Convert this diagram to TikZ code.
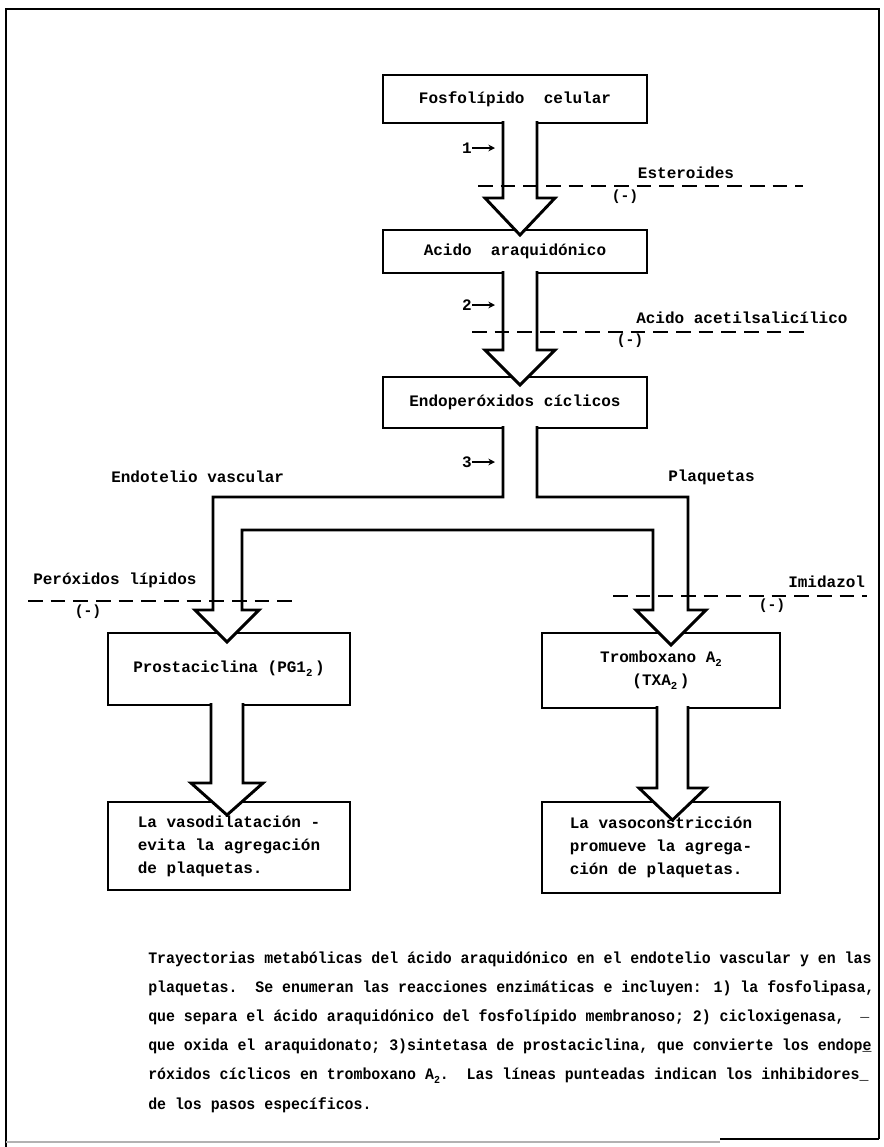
\documentclass[tikz,border=0pt]{standalone}
\usepackage{fontspec}
\newfontfamily\diagfont{Liberation Mono}
\newfontfamily\capfont[FakeStretch=0.93]{Liberation Mono}
\usetikzlibrary{calc,arrows.meta}
\newcommand\lowsub[1]{\raisebox{-0.45ex}{\fontsize{8}{8}\selectfont #1}}
\begin{document}
\begin{tikzpicture}[x=0.75pt,y=-0.75pt,
  pbox/.style={draw,line width=1.8pt,inner sep=0pt,outer sep=0pt,font=\diagfont\bfseries\fontsize{12}{17.25}\selectfont,align=center},
  lbl/.style={font=\diagfont\bfseries\fontsize{12}{14}\selectfont,inner sep=0pt},
  minus/.style={font=\diagfont\bfseries\fontsize{11}{12}\selectfont,inner sep=0pt},
  blockarrow/.style={draw,fill=white,line width=2.2pt,line join=miter},
  inhib/.style={line width=2.2pt,dash pattern=on 11pt off 6pt},
  numarrow/.style={line width=1.3pt,-{Stealth[length=5pt,width=5pt]}},
  capline/.style={font=\capfont\bfseries\fontsize{12}{22}\selectfont,inner sep=0pt,anchor=base west}]
\useasboundingbox (0,0) rectangle (883,1147);
% frame
\coordinate (f1) at (879,1139);
\coordinate (f2) at (879,9);
\coordinate (f3) at (6,9);
\coordinate (f4) at (6,1147);
\coordinate (f5) at (6,1142);
\coordinate (f6) at (720,1142);
\coordinate (f7) at (720,1139);
\draw[line width=1.5pt] (f1) -- (f2) -- (f3) -- (f4);
\draw[line width=1pt,black!30] (f5) -- (f6);
\draw[line width=1.5pt] (f7) -- (f1);
% boxes
\node[pbox,minimum width=198pt,minimum height=36pt] (b1) at (515,99) {Fosfolípido\ \ celular};
\node[pbox,minimum width=198pt,minimum height=32.25pt] (b2) at (515,251.5) {Acido\ \ araquidónico};
\node[pbox,minimum width=198pt,minimum height=38.25pt] (b3) at (515,402.5) {Endoperóxidos cíclicos};
\node[pbox,minimum width=181.5pt,minimum height=54pt] (b4) at (229,669) {Prostaciclina (PG1\lowsub{2}\,)};
\node[pbox,minimum width=178.5pt,minimum height=56.25pt] (b6) at (661,670.5) {Tromboxano A\lowsub{2}\\(TXA\lowsub{2}\,)};
\node[pbox,minimum width=181.5pt,minimum height=66pt,align=left] (b5) at (229,846) {La vasodilatación -\\evita la agregación\\de plaquetas.};
\node[pbox,minimum width=178.5pt,minimum height=68.25pt,align=left] (b7) at (661,847.5) {La vasoconstricción\\promueve la agrega-\\ción de plaquetas.};
% block arrows
\draw[blockarrow] ($(b1.south)+(-12,-2)$) -- ++(0,77) -- ++(-18,0) -- ++(35,37) -- ++(35,-37) -- ++(-18,0) -- ++(0,-77);
\draw[blockarrow] ($(b2.south)+(-12,-2)$) -- ++(0,79) -- ++(-18,0) -- ++(35,35) -- ++(35,-35) -- ++(-18,0) -- ++(0,-79);
\draw[blockarrow] ($(b3.south)+(-12,-2)$) -- ++(0,71) -- ++(-290,0) -- ++(0,113) -- ++(-18,0) -- ++(32,32) -- ++(32,-32) -- ++(-17,0) -- ++(0,-80) -- ++(411,0) -- ++(0,80) -- ++(-17,0) -- ++(35,35) -- ++(35,-35) -- ++(-18,0) -- ++(0,-113) -- ++(-151,0) -- ++(0,-71);
\draw[blockarrow] ($(b4.south)+(-18,-2)$) -- ++(0,80) -- ++(-20,0) -- ++(36,32) -- ++(36,-32) -- ++(-20,0) -- ++(0,-80);
\draw[blockarrow] ($(b6.south)+(-4,-2)$) -- ++(0,82) -- ++(-18,0) -- ++(33.5,32) -- ++(33.5,-32) -- ++(-18,0) -- ++(0,-82);
% inhibitor lines
\coordinate (e1) at (478,186); \coordinate (e2) at (803,186);
\coordinate (a1) at (472,332); \coordinate (a2) at (812,332);
\coordinate (p1) at (28,601); \coordinate (p2) at (300,601);
\coordinate (i1) at (613,596); \coordinate (i2) at (867,596);
\draw[inhib] (e1) -- (e2);
\draw[inhib] (a1) -- (a2);
\draw[inhib] (p1) -- (p2);
\draw[inhib] (i1) -- (i2);
% labels
\node[lbl] (est) at (686,173) {Esteroides};
\node[minus] (m1) at (625,197) {(-)};
\node[lbl,anchor=west] (aas) at (636,318) {Acido acetilsalicílico};
\node[minus] (m2) at (630,341) {(-)};
\node[lbl,anchor=west] (endv) at (111,477) {Endotelio vascular};
\node[lbl,anchor=west] (plq) at (668,477) {Plaquetas};
\node[lbl,anchor=west] (perox) at (33,580) {Peróxidos lípidos};
\node[minus] (m3) at (88,612) {(-)};
\node[lbl,anchor=west] (imid) at (788,582) {Imidazol};
\node[minus] (m4) at (772,606) {(-)};
% step numbers
\node[lbl] (n1) at (467,148) {1};
\node[lbl] (n2) at (467,305) {2};
\node[lbl] (n3) at (467,462) {3};
\coordinate (t1) at (495,148);
\coordinate (t2) at (495,305);
\coordinate (t3) at (495,462);
\draw[numarrow] (n1.east) -- (t1);
\draw[numarrow] (n2.east) -- (t2);
\draw[numarrow] (n3.east) -- (t3);
% caption
\node[capline] (c1) at (148,963) {Trayectorias metabólicas del ácido araquidónico en el endotelio vascular y en las};
\node[capline] (c2) at (148,992.2) {plaquetas.\ \ Se enumeran las reacciones enzimáticas e incluyen: 1) la fosfolipasa,};
\node[capline] (c3) at (148,1021.4) {que separa el ácido araquidónico del fosfolípido membranoso; 2) cicloxigenasa,};
\node[capline] (u3) at (860,1016) {\_};
\node[capline] (c4) at (148,1050.6) {que oxida el araquidonato; 3)sintetasa de prostaciclina, que convierte los endop\rlap{e}\_};
\node[capline] (c5) at (148,1079.8) {róxidos cíclicos en tromboxano A\lowsub{2}.\ \ Las líneas punteadas indican los inhibidores\_};
\node[capline] (c6) at (148,1109) {de los pasos específicos.};
\end{tikzpicture}
\end{document}
